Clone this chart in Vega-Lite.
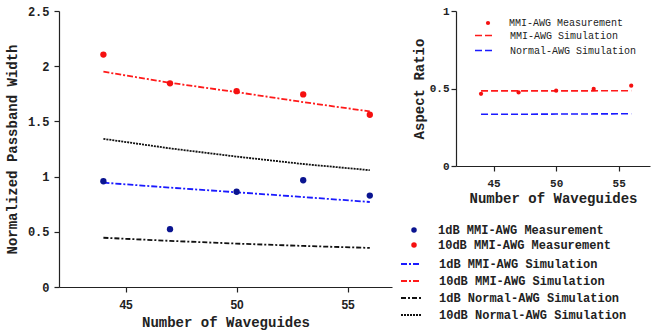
{
  "$schema": "https://vega.github.io/schema/vega-lite/v6.json",
  "bounds": "flush",
  "spacing": 64,
  "config": {"view": {"stroke": null}, "font": "Liberation Mono"},
  "datasets": {
    "passband": [
      {"n": 44, "v": 0.958, "series": "1dB MMI-AWG Measurement", "kind": "meas"},
      {"n": 47, "v": 0.524, "series": "1dB MMI-AWG Measurement", "kind": "meas"},
      {"n": 50, "v": 0.863, "series": "1dB MMI-AWG Measurement", "kind": "meas"},
      {"n": 53, "v": 0.967, "series": "1dB MMI-AWG Measurement", "kind": "meas"},
      {"n": 56, "v": 0.828, "series": "1dB MMI-AWG Measurement", "kind": "meas"},
      {"n": 44, "v": 2.105, "series": "10dB MMI-AWG Measurement", "kind": "meas"},
      {"n": 47, "v": 1.845, "series": "10dB MMI-AWG Measurement", "kind": "meas"},
      {"n": 50, "v": 1.774, "series": "10dB MMI-AWG Measurement", "kind": "meas"},
      {"n": 53, "v": 1.744, "series": "10dB MMI-AWG Measurement", "kind": "meas"},
      {"n": 56, "v": 1.56, "series": "10dB MMI-AWG Measurement", "kind": "meas"},
      {"n": 44, "v": 0.945, "series": "1dB MMI-AWG Simulation", "kind": "sim"},
      {"n": 47, "v": 0.9, "series": "1dB MMI-AWG Simulation", "kind": "sim"},
      {"n": 50, "v": 0.858, "series": "1dB MMI-AWG Simulation", "kind": "sim"},
      {"n": 53, "v": 0.815, "series": "1dB MMI-AWG Simulation", "kind": "sim"},
      {"n": 56, "v": 0.77, "series": "1dB MMI-AWG Simulation", "kind": "sim"},
      {"n": 44, "v": 1.95, "series": "10dB MMI-AWG Simulation", "kind": "sim"},
      {"n": 47, "v": 1.85, "series": "10dB MMI-AWG Simulation", "kind": "sim"},
      {"n": 50, "v": 1.765, "series": "10dB MMI-AWG Simulation", "kind": "sim"},
      {"n": 53, "v": 1.675, "series": "10dB MMI-AWG Simulation", "kind": "sim"},
      {"n": 56, "v": 1.59, "series": "10dB MMI-AWG Simulation", "kind": "sim"},
      {"n": 44, "v": 0.446, "series": "1dB Normal-AWG Simulation", "kind": "sim"},
      {"n": 47, "v": 0.418, "series": "1dB Normal-AWG Simulation", "kind": "sim"},
      {"n": 50, "v": 0.393, "series": "1dB Normal-AWG Simulation", "kind": "sim"},
      {"n": 53, "v": 0.372, "series": "1dB Normal-AWG Simulation", "kind": "sim"},
      {"n": 56, "v": 0.354, "series": "1dB Normal-AWG Simulation", "kind": "sim"},
      {"n": 44, "v": 1.342, "series": "10dB Normal-AWG Simulation", "kind": "sim"},
      {"n": 47, "v": 1.256, "series": "10dB Normal-AWG Simulation", "kind": "sim"},
      {"n": 50, "v": 1.181, "series": "10dB Normal-AWG Simulation", "kind": "sim"},
      {"n": 53, "v": 1.114, "series": "10dB Normal-AWG Simulation", "kind": "sim"},
      {"n": 56, "v": 1.058, "series": "10dB Normal-AWG Simulation", "kind": "sim"}
    ],
    "aspect": [
      {"n": 44, "r": 0.466, "grp": "MMI-AWG Measurement", "kind": "meas"},
      {"n": 47, "r": 0.475, "grp": "MMI-AWG Measurement", "kind": "meas"},
      {"n": 50, "r": 0.486, "grp": "MMI-AWG Measurement", "kind": "meas"},
      {"n": 53, "r": 0.497, "grp": "MMI-AWG Measurement", "kind": "meas"},
      {"n": 56, "r": 0.518, "grp": "MMI-AWG Measurement", "kind": "meas"},
      {"n": 44, "r": 0.485, "grp": "MMI-AWG Simulation", "kind": "sim"},
      {"n": 47, "r": 0.485, "grp": "MMI-AWG Simulation", "kind": "sim"},
      {"n": 50, "r": 0.485, "grp": "MMI-AWG Simulation", "kind": "sim"},
      {"n": 53, "r": 0.485, "grp": "MMI-AWG Simulation", "kind": "sim"},
      {"n": 56, "r": 0.486, "grp": "MMI-AWG Simulation", "kind": "sim"},
      {"n": 44, "r": 0.334, "grp": "Normal-AWG Simulation", "kind": "sim"},
      {"n": 47, "r": 0.334, "grp": "Normal-AWG Simulation", "kind": "sim"},
      {"n": 50, "r": 0.335, "grp": "Normal-AWG Simulation", "kind": "sim"},
      {"n": 53, "r": 0.336, "grp": "Normal-AWG Simulation", "kind": "sim"},
      {"n": 56, "r": 0.337, "grp": "Normal-AWG Simulation", "kind": "sim"}
    ]
  },
  "resolve": {
    "scale": {"x": "independent", "y": "independent", "fill": "independent", "stroke": "independent", "strokeDash": "independent"},
    "legend": {"fill": "independent", "stroke": "independent", "strokeDash": "independent"}
  },
  "hconcat": [
    {
      "width": 333,
      "height": 276,
      "data": {"name": "passband"},
      "encoding": {
        "x": {
          "field": "n", "type": "quantitative",
          "scale": {"domain": [42, 57], "nice": false, "zero": false},
          "axis": {
            "title": "Number of Waveguides",
            "values": [45, 50, 55],
            "tickSize": 5,
            "grid": false, "labelOverlap": false, "labelFlush": false,
            "domainColor": "#222", "tickColor": "#222", "domainWidth": 1.2, "tickWidth": 1.2,
            "labelFont": "Liberation Sans", "labelFontWeight": "bold", "labelFontSize": 12, "labelColor": "#222",
            "labelPadding": 7,
            "titleFont": "Liberation Mono", "titleFontWeight": "bold", "titleFontSize": 14, "titleColor": "#222",
            "titlePadding": 5
          }
        },
        "y": {
          "field": "v", "type": "quantitative",
          "scale": {"domain": [0, 2.5], "nice": false},
          "axis": {
            "title": "Normalized Passband Width",
            "values": [0, 0.5, 1, 1.5, 2, 2.5],
            "format": "~g",
            "tickSize": 5,
            "grid": false, "labelOverlap": false, "labelFlush": false,
            "domainColor": "#222", "tickColor": "#222", "domainWidth": 1.2, "tickWidth": 1.2,
            "labelFont": "Liberation Mono", "labelFontWeight": "bold", "labelFontSize": 12, "labelColor": "#222",
            "labelPadding": 5,
            "titleFont": "Liberation Mono", "titleFontWeight": "bold", "titleFontSize": 14, "titleColor": "#222",
            "titlePadding": 8
          }
        }
      },
      "layer": [
        {
          "transform": [{"filter": "datum.kind === 'sim'"}],
          "mark": {"type": "line", "strokeWidth": 1.8},
          "encoding": {
            "stroke": {
              "field": "series", "type": "nominal",
              "scale": {
                "domain": ["1dB MMI-AWG Simulation", "10dB MMI-AWG Simulation", "1dB Normal-AWG Simulation", "10dB Normal-AWG Simulation"],
                "range": ["#1a1aff", "#ff1a1a", "#111111", "#111111"]
              },
              "legend": {
                "title": null, "orient": "none", "legendX": 339, "legendY": 240,
                "symbolType": "stroke", "symbolSize": 400, "symbolStrokeWidth": 1.8,
                "padding": 2, "rowPadding": 0,
                "labelFont": "Liberation Mono", "labelFontWeight": "bold", "labelFontSize": 12, "labelColor": "#222", "labelOffset": 17, "labelLimit": 400
              }
            },
            "strokeDash": {
              "field": "series", "type": "nominal",
              "scale": {
                "domain": ["1dB MMI-AWG Simulation", "10dB MMI-AWG Simulation", "1dB Normal-AWG Simulation", "10dB Normal-AWG Simulation"],
                "range": [[6, 2, 2, 2], [6, 2, 2, 2], [5, 2, 2, 2], [2, 1]]
              },
              "legend": {
                "title": null, "orient": "none", "legendX": 339, "legendY": 240,
                "symbolType": "stroke", "symbolSize": 400, "symbolStrokeWidth": 1.8,
                "padding": 2, "rowPadding": 0,
                "labelFont": "Liberation Mono", "labelFontWeight": "bold", "labelFontSize": 12, "labelColor": "#222", "labelOffset": 17, "labelLimit": 400
              }
            }
          }
        },
        {
          "transform": [{"filter": "datum.kind === 'meas'"}],
          "mark": {"type": "point", "filled": true, "size": 40, "opacity": 1},
          "encoding": {
            "fill": {
              "field": "series", "type": "nominal",
              "scale": {
                "domain": ["1dB MMI-AWG Measurement", "10dB MMI-AWG Measurement"],
                "range": ["#0a1490", "#f51010"]
              },
              "legend": {
                "title": null, "orient": "none", "legendX": 347, "legendY": 211,
                "symbolType": "circle", "symbolSize": 30,
                "padding": 2, "rowPadding": 3,
                "labelFont": "Liberation Mono", "labelFontWeight": "bold", "labelFontSize": 12, "labelColor": "#222", "labelOffset": 18, "labelLimit": 400
              }
            }
          }
        }
      ]
    },
    {
      "width": 194,
      "height": 155,
      "data": {"name": "aspect"},
      "encoding": {
        "x": {
          "field": "n", "type": "quantitative",
          "scale": {"domain": [42, 57.5], "nice": false, "zero": false},
          "axis": {
            "title": "Number of Waveguides",
            "values": [45, 50, 55],
            "tickSize": 5,
            "grid": false, "labelOverlap": false, "labelFlush": false,
            "domainColor": "#222", "tickColor": "#222", "domainWidth": 1.2, "tickWidth": 1.2,
            "labelFont": "Liberation Mono", "labelFontWeight": "bold", "labelFontSize": 11, "labelColor": "#222",
            "labelPadding": 6,
            "titleFont": "Liberation Mono", "titleFontWeight": "bold", "titleFontSize": 14, "titleColor": "#222",
            "titlePadding": 3
          }
        },
        "y": {
          "field": "r", "type": "quantitative",
          "scale": {"domain": [0, 1], "nice": false},
          "axis": {
            "title": "Aspect Ratio",
            "values": [0, 0.5, 1],
            "format": "~g",
            "tickSize": 5,
            "grid": false, "labelOverlap": false, "labelFlush": false,
            "domainColor": "#222", "tickColor": "#222", "domainWidth": 1.2, "tickWidth": 1.2,
            "labelFont": "Liberation Mono", "labelFontWeight": "bold", "labelFontSize": 11, "labelColor": "#222",
            "labelPadding": 2,
            "titleFont": "Liberation Mono", "titleFontWeight": "bold", "titleFontSize": 14, "titleColor": "#222",
            "titlePadding": 3
          }
        }
      },
      "layer": [
        {
          "transform": [{"filter": "datum.kind === 'sim'"}],
          "mark": {"type": "line", "strokeWidth": 1.6, "strokeDash": [7, 3]},
          "encoding": {
            "stroke": {
              "field": "grp", "type": "nominal",
              "scale": {"domain": ["MMI-AWG Simulation", "Normal-AWG Simulation"], "range": ["#ff1a1a", "#1a1aff"]},
              "legend": {
                "title": null, "orient": "none", "legendX": 16, "legendY": 13,
                "symbolType": "stroke", "symbolSize": 289, "symbolStrokeWidth": 1.6, "symbolDash": [7, 3],
                "padding": 2, "rowPadding": 0,
                "labelFont": "Liberation Mono", "labelFontSize": 10, "labelColor": "#222", "labelOffset": 17, "labelLimit": 400
              }
            }
          }
        },
        {
          "transform": [{"filter": "datum.kind === 'meas'"}],
          "mark": {"type": "point", "filled": true, "size": 18, "opacity": 1},
          "encoding": {
            "fill": {
              "field": "grp", "type": "nominal",
              "scale": {"domain": ["MMI-AWG Measurement"], "range": ["#f51010"]},
              "legend": {
                "title": null, "orient": "none", "legendX": 25, "legendY": 5,
                "symbolType": "circle", "symbolSize": 18,
                "padding": 2,
                "labelFont": "Liberation Mono", "labelFontSize": 10, "labelColor": "#222", "labelOffset": 16, "labelLimit": 400
              }
            }
          }
        }
      ]
    }
  ]
}
